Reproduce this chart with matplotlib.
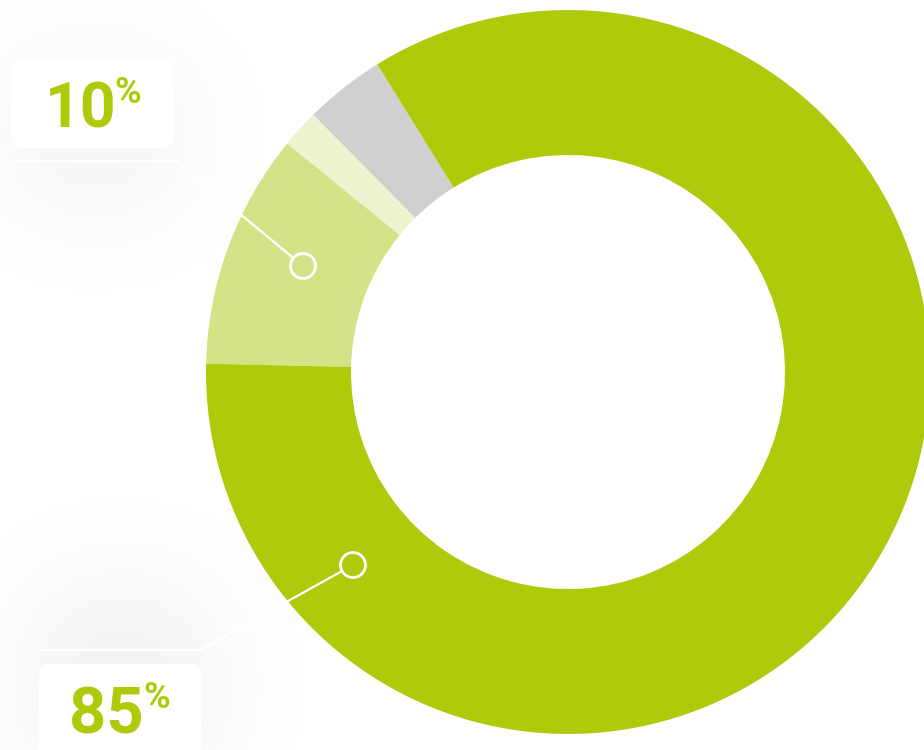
import numpy as np
import matplotlib
matplotlib.use("Agg")
import matplotlib.pyplot as plt
from matplotlib.patches import FancyBboxPatch, Circle
from math import erf

# Datos (porcentaje de cada segmento, sentido antihorario)
segmentos = ["Gris", "Verde muy claro", "Verde claro", "Verde"]
valores = [3.6, 1.7, 10.5, 84.2]
colores = ["#d0d0d0", "#edf3cf", "#d5e388", "#afca0b"]
etiquetas = ["10", "85"]

W, H = 924, 750
fig = plt.figure(figsize=(W / 100, H / 100), dpi=100)
ax = fig.add_axes([0, 0, 1, 1])

# Sombras difusas detrás de las etiquetas
yy, xx = np.mgrid[0:H, 0:W] + 0.5
verf = np.vectorize(erf)


def sombra(x0, x1, y0, y1, s):
    gx = 0.5 * (verf((xx[0] - x0) / (s * 1.414)) - verf((xx[0] - x1) / (s * 1.414)))
    gy = 0.5 * (verf((yy[:, 0] - y0) / (s * 1.414)) - verf((yy[:, 0] - y1) / (s * 1.414)))
    return np.outer(gy, gx)


osc = 0.065 * sombra(10, 180, 70, 200, 65) + 0.065 * sombra(35, 210, 590, 780, 65)
img = np.zeros((H, W, 4))
img[..., 3] = np.clip(osc, 0, 1)
ax.imshow(img, extent=(0, W, 0, H), origin="upper", zorder=0, interpolation="bilinear")

# Donut
ax.pie(valores, colors=colores, startangle=121.8, counterclock=True,
       center=(568, 378), radius=362,
       wedgeprops=dict(width=145, linewidth=0))

# Cajas de etiquetas
for (x, y, w, h) in [(12, 602, 161, 89), (39, -20, 162, 106)]:
    ax.add_patch(FancyBboxPatch((x, y), w, h, boxstyle="round,pad=0,rounding_size=10",
                                fc="white", ec="none", zorder=3))

# Líneas guía y círculos
ax.plot([15, 176, 293], [589, 589, 492.3], color="white", lw=1.6, zorder=4)
ax.add_patch(Circle((303, 484), 12.5, fc="none", ec="white", lw=2, zorder=4))
ax.plot([37, 200, 341.6], [100, 100, 178.7], color="white", lw=1.6, zorder=4)
ax.add_patch(Circle((353, 185), 12.5, fc="none", ec="white", lw=2, zorder=4))

verde = "#afca0b"
fuente = "Roboto"
ax.text(45, 622, etiquetas[0], fontsize=45, fontweight="bold", family=fuente,
        color=verde, ha="left", va="baseline", zorder=5)
ax.text(114, 647, "%", fontsize=26, fontweight="bold", family=fuente,
        color=verde, ha="left", va="baseline", zorder=5)
ax.text(69, 17, etiquetas[1], fontsize=47, fontweight="bold", family=fuente,
        color=verde, ha="left", va="baseline", zorder=5)
ax.text(143, 42, "%", fontsize=26, fontweight="bold", family=fuente,
        color=verde, ha="left", va="baseline", zorder=5)

ax.set_xlim(0, W)
ax.set_ylim(0, H)
ax.set_aspect("equal")
ax.axis("off")

fig.savefig("out.png", dpi=100, facecolor="white")
